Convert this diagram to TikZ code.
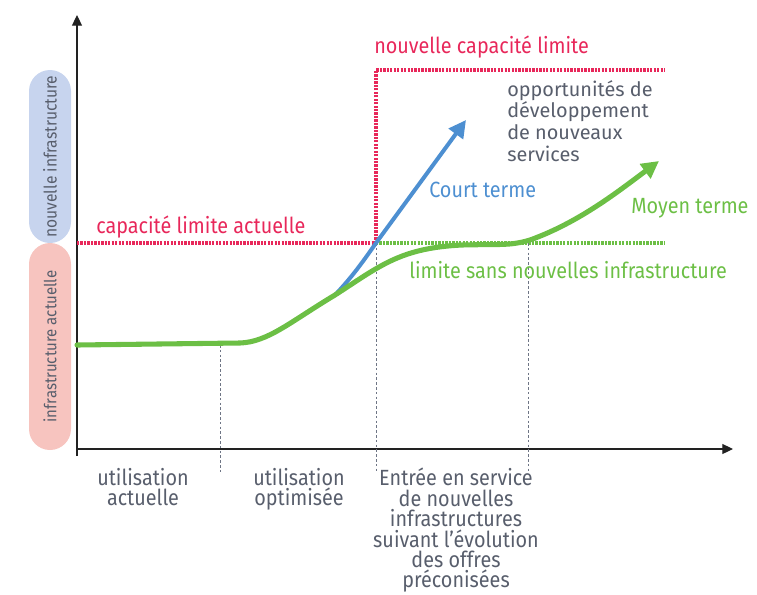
\documentclass[tikz,border=0pt]{standalone}
\usepackage{fontspec}
\setmainfont{Fira Sans}[FakeStretch=0.9]
\newfontfamily\wideface{Fira Sans}
\usetikzlibrary{arrows.meta,shapes.misc}
\definecolor{capc}{HTML}{E8275A}
\definecolor{growc}{HTML}{6CBF45}
\definecolor{fastc}{HTML}{4D8FD1}
\definecolor{axc}{HTML}{222222}
\definecolor{guidec}{HTML}{6E7585}
\definecolor{txtc}{HTML}{585E6C}
\definecolor{newbg}{HTML}{C7D4EE}
\definecolor{curbg}{HTML}{F7C4BF}
\tikzset{
  axisline/.style={draw=axc,line width=0.8pt},
  axtip/.style={-{Triangle[length=8pt,width=7.5pt]}},
  capline/.style={draw=capc,line width=3.5pt,dash pattern=on 1.7pt off 0.9pt},
  nocapline/.style={capline,draw=growc},
  guide/.style={draw=guidec,line width=0.6pt,dash pattern=on 2pt off 1.6pt},
  growline/.style={draw=growc,line width=3.8pt,line cap=round},
  fastline/.style={draw=fastc,line width=3pt},
  growtip/.style={-{Triangle[length=13pt,width=13pt]}},
  pill/.style={rounded rectangle,rotate=90,minimum height=31.5pt,inner sep=0pt,
    text=txtc},
  lbl/.style={inner sep=0pt,font=\fontsize{16.5}{15.3}\selectfont},
  caplbl/.style={lbl,text=capc,anchor=west},
  phase/.style={lbl,text=txtc,align=center,anchor=north},
}
\begin{document}
\begin{tikzpicture}[x=0.75pt,y=-0.75pt]
  \useasboundingbox (0,0) rectangle (757,594);
  % bandes verticales
  \node[pill,fill=newbg,minimum width=129.75pt,font=\fontsize{13}{15}\selectfont] (newinf) at (50,156.5) {nouvelle infrastructure};
  \node[pill,fill=curbg,minimum width=155.25pt,font=\fontsize{12.5}{15}\selectfont] (curinf) at (50,346.5) {infrastructure actuelle};
  % axes
  \coordinate (O) at (77,449);
  \coordinate (ybot) at (77,456);
  \coordinate (ytop) at (77,15);
  \coordinate (xend) at (733,449);
  \draw[axisline,axtip] (ybot) -- (ytop);
  \draw[axisline,axtip] (O) -- (xend);
  % reperes temporels
  \coordinate (t1) at (220,345); \coordinate (t1b) at (220,472);
  \coordinate (t2) at (376,243); \coordinate (t2b) at (376,472);
  \coordinate (t3) at (528,243); \coordinate (t3b) at (528,472);
  \draw[guide] (t1) -- (t1b);
  \draw[guide] (t2) -- (t2b);
  \draw[guide] (t3) -- (t3b);
  % capacites
  \coordinate (capA) at (77,243);
  \coordinate (capB) at (665,243);
  \coordinate (capUp) at (376,70);
  \coordinate (capUpEnd) at (665,70);
  \draw[nocapline] (t2) -- (capB);
  \draw[capline] (capA) -- (t2);
  \draw[capline] (t2) -- (capUp) -- (capUpEnd);
  \node[caplbl] (curcap) at (96,227) {capacité limite actuelle};
  \node[caplbl] (newcap) at (374,47) {nouvelle capacité limite};
  % courbes
  \coordinate (g0) at (77,345);
  \coordinate (split) at (335,295);
  \coordinate (gend) at (659,161);
  \coordinate (bend) at (466,120);
  \draw[fastline,growtip] (split) .. controls (352,277) and (362,263) .. (t2) -- (bend);
  \draw[growline,growtip] (g0) -- (240,343) .. controls (268,342) and (290,322) .. (split)
    .. controls (380,266) and (400,248) .. (462,245)
    .. controls (500,244) and (510,246) .. (530,240)
    .. controls (580,222) and (620,190) .. (gend);
  \node[lbl,text=fastc,anchor=west] (short) at (429,190) {Court terme};
  \node[lbl,text=growc,anchor=west] (mid) at (631,208) {Moyen terme};
  \node[lbl,text=growc,anchor=west] (nolim) at (409,270) {limite sans nouvelles infrastructure};
  \node[lbl,text=txtc,anchor=north west,align=left,font=\wideface\fontsize{14.9}{16.3}\selectfont]
    (opp) at (507,80) {opportunités de\\développement\\de nouveaux\\services};
  % phases
  \node[phase] (ph1) at (143,468) {utilisation\\actuelle};
  \node[phase] (ph2) at (299,468) {utilisation\\optimisée};
  \node[phase] (ph3) at (456,468) {Entrée en service\\de nouvelles\\infrastructures\\suivant l’évolution\\des offres\\préconisées};
\end{tikzpicture}
\end{document}
